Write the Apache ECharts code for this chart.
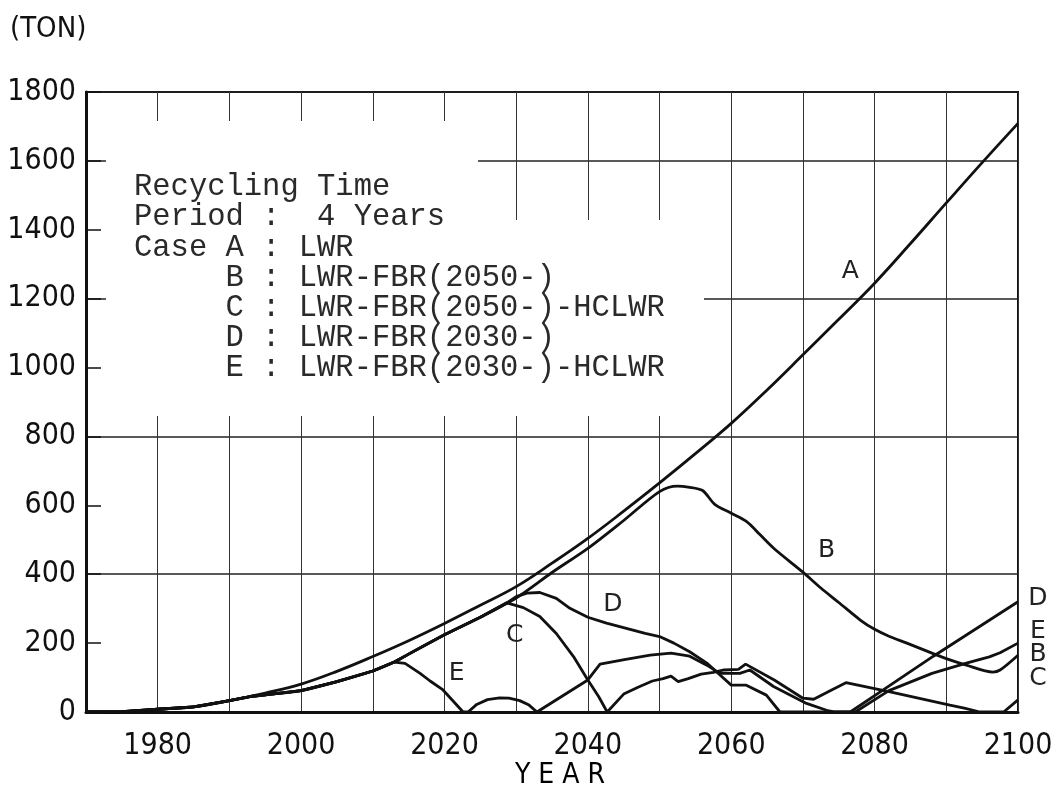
<!DOCTYPE html>
<html><head><meta charset="utf-8">
<script src="https://cdn.jsdelivr.net/npm/echarts@6/dist/echarts.min.js"></script>
<style>html,body{margin:0;padding:0;background:#fff}#c{width:1058px;height:791px}</style>
</head><body><div id="c"></div>
<script>
// ---- data (year, tons) ----
const yTickValues = [0,200,400,600,800,1000,1200,1400,1600,1800];
const xLabelYears = [1980,2000,2020,2040,2060,2080,2100];

const yearsA = [1970,1975,1980,1985,1990,1995,2000,2005,2010,2015,2020,2025,2030,2035,2040,2045,2050,2055,2060,2065,2070,2075,2080,2085,2090,2095,2100];
const tonsA  = [0,1,8,15,33,55,81,118,161,207,257,310,364,432,504,583,665,750,838,935,1037,1140,1245,1360,1478,1595,1709];

const yearsB = [1970,1975,1980,1985,1990,1993,1995,2000,2005,2010,2013,2015,2020,2025,2030,2035,2040,2045,2050,2052.5,2054,2056,2057.7,2060,2062.2,2064,2066,2070,2072.5,2075,2078,2080,2082,2084.5,2088,2090,2092.8,2096.5,2097.5,2100];
const tonsB  = [0,1,8,15,33,45,50,62,88,119,145,168,224,275,331,405,475,556,640,656,653,643,603,577,552,515,474,406,360,318,267,240,220,200,171,155,136,116,122,165];

const yearsC = [1970,1975,1980,1985,1990,1993,1995,2000,2005,2010,2013,2015,2020,2025,2028.7,2031,2033.3,2035.6,2038,2040,2041.5,2042.7,2045,2047,2049,2050.5,2051.6,2052.6,2054,2055.8,2057.5,2059,2061,2062,2066,2070,2071.5,2074,2076,2082,2090.5,2092.5,2094.7,2098,2100];
const tonsC  = [0,1,8,15,33,45,50,62,88,119,145,168,224,275,317,303,277,228,161,93,45,0,52,72,90,97,104,88,97,110,115,122,124,139,93,40,37,64,85,59,20,11,0,0,35];

const yearsD = [1970,1975,1980,1985,1990,1993,1995,2000,2005,2010,2013,2015,2020,2025,2028.7,2030,2031.5,2033.3,2035.6,2037.5,2040,2042.6,2045.9,2048,2050,2052,2054.2,2056.6,2058.4,2060,2062.1,2064.9,2066.8,2076.6,2081.2,2088.2,2100];
const tonsD  = [0,1,8,15,33,45,50,62,88,119,145,168,224,275,317,335,345,347,330,301,275,258,240,228,219,200,175,142,108,78,78,49,0,0,64,162,320];

const yearsE = [1970,1975,1980,1985,1990,1993,1995,2000,2005,2010,2013,2014.5,2016.6,2018,2019.8,2021.2,2022.6,2023.3,2024.5,2026,2027.7,2029,2030.5,2031.8,2032.9,2040,2041.7,2044.9,2048.7,2051.6,2054.2,2056.6,2058.4,2061.2,2062.6,2065.9,2070.5,2073.3,2074.5,2077.3,2082,2088,2092.8,2096,2097.5,2100];
const tonsE  = [0,1,8,15,33,45,50,62,88,119,145,141,112,90,64,32,0,0,22,36,41,40,33,20,0,93,139,151,165,171,162,136,112,112,122,74,25,5,0,0,62,112,142,160,172,200];

const curveLabels = { A:[2076.6,1279], B:[2073.3,470], C:[2029.8,222], D:[2043.5,311], E:[2021.7,113] };

const legendLines = [
  'Recycling Time',
  'Period :  4 Years',
  'Case A : LWR',
  '     B : LWR-FBR(2050-)',
  '     C : LWR-FBR(2050-)-HCLWR',
  '     D : LWR-FBR(2030-)',
  '     E : LWR-FBR(2030-)-HCLWR'
];

// ---- chart ----
const ink = '#111';
const sansC = '"DejaVu Sans Condensed","Liberation Sans Narrow","DejaVu Sans",sans-serif';
const pair = (xs, ys) => xs.map((x, i) => [x, ys[i]]);

function mkSeries(name, xs, ys, smooth, endOffset) {
  const marks = [{ coord: curveLabels[name], label: { formatter: name } }];
  if (endOffset) marks.push({ coord: [xs[xs.length-1], ys[ys.length-1]], label: { formatter: name, offset: endOffset } });
  return {
    name, type: 'line', data: pair(xs, ys), smooth, symbol: 'none', showSymbol: false,
    lineStyle: { color: ink, width: 2.8 }, z: 3, silent: true, animation: false,
    markPoint: {
      symbol: 'circle', symbolSize: 0, silent: true, animation: false,
      itemStyle: { color: 'transparent' },
      label: { show: true, position: 'inside', color: '#222', fontSize: 25, fontFamily: '"DejaVu Sans",sans-serif' },
      data: marks
    }
  };
}

const chart = echarts.init(document.getElementById('c'));
chart.setOption({
  animation: false,
  backgroundColor: '#fff',
  grid: { left: 86, right: 40, top: 92, bottom: 79, show: true, borderColor: ink, borderWidth: 2, containLabel: false, outerBoundsMode: 'none' },
  xAxis: {
    type: 'value', min: 1970, max: 2100, interval: 10,
    axisLine: { show: true, onZero: false, lineStyle: { color: ink, width: 3 } },
    axisTick: { show: false },
    axisLabel: { margin: 19, fontSize: 30, fontFamily: sansC, color: ink,
      formatter: v => xLabelYears.includes(v) ? String(v) : '' },
    splitLine: { show: true, lineStyle: { color: '#333', width: 1 } }
  },
  yAxis: [{
    type: 'value', min: 0, max: 1800, interval: 200,
    axisLine: { show: true, lineStyle: { color: ink, width: 3 } },
    axisTick: { show: true, inside: true, length: 15, lineStyle: { color: ink, width: 1.5 } },
    axisLabel: { margin: 10, fontSize: 30, fontFamily: sansC, color: ink,
      formatter: v => yTickValues.includes(v) ? String(v) : '' },
    splitLine: { show: false }
  }, {
    type: 'value', min: 0, max: 1800, interval: 400, position: 'left',
    axisLine: { show: false }, axisTick: { show: false }, axisLabel: { show: false },
    splitLine: { show: true, lineStyle: { color: '#222', width: 1.5 } }
  }],
  series: [
    mkSeries('A', yearsA, tonsA, 0.4, null),
    mkSeries('B', yearsB, tonsB, 0.3, [20, -1]),
    mkSeries('C', yearsC, tonsC, false, [20, -21]),
    mkSeries('D', yearsD, tonsD, false, [20, -3]),
    mkSeries('E', yearsE, tonsE, false, [20, -12])
  ],
  graphic: [
    { type: 'rect', z: 1, silent: true, shape: { x: 106, y: 121, width: 372, height: 295 }, style: { fill: '#fff' } },
    { type: 'rect', z: 1, silent: true, shape: { x: 478, y: 220, width: 226, height: 196 }, style: { fill: '#fff' } },
    { type: 'text', z: 5, x: 134, y: 172, style: { text: legendLines.join('\n'), fontSize: 30.5, fontFamily: '"Liberation Mono","DejaVu Sans Mono",monospace', fill: '#2a2a2a', lineHeight: 30.2, verticalAlign: 'top' } },
    { type: 'text', z: 5, x: 10, y: 29, style: { text: '(TON)', fontSize: 29, fontFamily: sansC, fill: ink, verticalAlign: 'middle' } },
    { type: 'text', z: 5, x: 560, y: 776, style: { text: '{l|Y}{l|E}{l|A}{l|R}', align: 'center', verticalAlign: 'middle',
        rich: { l: { fontSize: 28, fontFamily: sansC, color: ink, padding: [0, 4, 0, 4] } } } }
  ]
});
</script>
</body></html>
